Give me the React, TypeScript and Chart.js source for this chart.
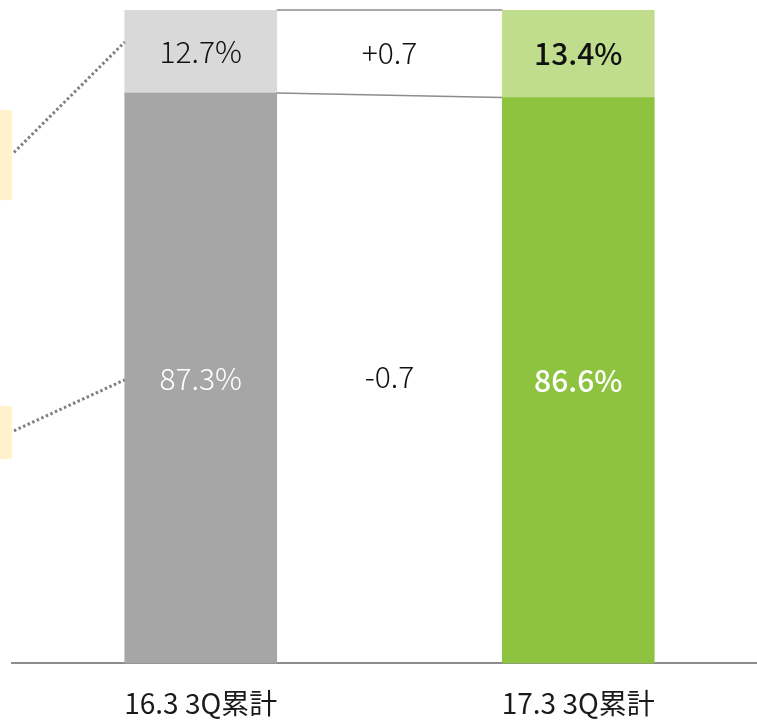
import { useEffect, useRef } from "react";
import { Chart, registerables } from "chart.js";

Chart.register(...registerables);

const categories = ["16.3 3Q累計", "17.3 3Q累計"];
const baseShare = [87.3, 86.6];
const topShare = [12.7, 13.4];
const baseLabels = ["87.3%", "86.6%"];
const topLabels = ["12.7%", "13.4%"];
const changeLabels = ["-0.7", "+0.7"]; // base change, top change
const baseColors = ["#a6a6a6", "#8dc33f"];
const topColors = ["#d9d9d9", "#bfdd8d"];
// callout annotations at left edge (value space)
const calloutBoxRanges = [
  [84.7, 70.9],
  [39.4, 31.3],
];
const calloutLineStarts = [78.2, 35.6];
const calloutLineEnds = [95.1, 43.4];

const FAMILY = "'Noto Sans CJK JP', 'Noto Sans', sans-serif";

export default function App() {
  const ref = useRef<HTMLCanvasElement>(null);

  useEffect(() => {
    const canvas = ref.current;
    if (!canvas) return;

    const overlay = {
      id: "overlay",
      beforeDatasetsDraw(chart: any) {
        const { ctx, chartArea, scales } = chart;
        const y = scales.y;
        ctx.save();
        ctx.fillStyle = "#fff2cc";
        calloutBoxRanges.forEach(([a, b]) => {
          const y1 = y.getPixelForValue(a);
          const y2 = y.getPixelForValue(b);
          ctx.fillRect(0, y1, chartArea.left, y2 - y1);
        });
        ctx.restore();
      },
      afterDatasetsDraw(chart: any) {
        const { ctx, chartArea, scales } = chart;
        const y = scales.y;
        const m0 = chart.getDatasetMeta(0).data.map((e: any) => e.getProps(["x", "y", "base", "width"], true));
        const m1 = chart.getDatasetMeta(1).data.map((e: any) => e.getProps(["x", "y", "base", "width"], true));
        const leftRight = m0[0].x + m0[0].width / 2;
        const rightLeft = m0[1].x - m0[1].width / 2;
        const leftLeft = m0[0].x - m0[0].width / 2;

        ctx.save();
        // connectors
        ctx.strokeStyle = "#8c8c8c";
        ctx.lineWidth = 1.5;
        ctx.beginPath();
        ctx.moveTo(leftRight, m1[0].y);
        ctx.lineTo(rightLeft, m1[1].y);
        ctx.moveTo(leftRight, m0[0].y);
        ctx.lineTo(rightLeft, m0[1].y);
        ctx.stroke();

        // callout dotted lines
        ctx.strokeStyle = "#7f7f7f";
        ctx.lineWidth = 3;
        ctx.setLineDash([2.5, 2.5]);
        calloutLineStarts.forEach((v, i) => {
          ctx.beginPath();
          ctx.moveTo(chartArea.left + 2, y.getPixelForValue(v));
          ctx.lineTo(leftLeft, y.getPixelForValue(calloutLineEnds[i]));
          ctx.stroke();
        });
        ctx.setLineDash([]);

        // labels
        ctx.textAlign = "center";
        ctx.textBaseline = "middle";
        for (let i = 0; i < 2; i++) {
          const bold = i === 1;
          ctx.font = `${bold ? 500 : 300} 30px ${FAMILY}`;
          ctx.fillStyle = "#ffffff";
          ctx.fillText(baseLabels[i], m0[i].x, (m0[i].y + m0[i].base) / 2);
          ctx.fillStyle = "#111111";
          ctx.fillText(topLabels[i], m1[i].x, (m1[i].y + m1[i].base) / 2);
        }
        const midX = (leftRight + rightLeft) / 2;
        ctx.font = `300 30px ${FAMILY}`;
        ctx.fillStyle = "#111111";
        const baseMid = ((m0[0].y + m0[0].base) / 2 + (m0[1].y + m0[1].base) / 2) / 2;
        const topMid = ((m1[0].y + m1[0].base) / 2 + (m1[1].y + m1[1].base) / 2) / 2;
        ctx.fillText(changeLabels[0], midX, baseMid - 3);
        ctx.fillText(changeLabels[1], midX, topMid);
        ctx.restore();
      },
    };

    const chart = new Chart(canvas, {
      type: "bar",
      data: {
        labels: categories,
        datasets: [
          { data: baseShare, backgroundColor: baseColors, borderWidth: 0 },
          { data: topShare, backgroundColor: topColors, borderWidth: 0 },
        ],
      },
      options: {
        responsive: false,
        animation: false,
        devicePixelRatio: 1,
        layout: { padding: { left: 12, right: 0, top: 10, bottom: 0 } },
        plugins: { legend: { display: false }, tooltip: { enabled: false } },
        datasets: { bar: { barThickness: 152 } },
        scales: {
          x: {
            stacked: true,
            grid: { display: false, drawTicks: false },
            border: { display: true, color: "#8c8c8c", width: 2 },
            ticks: {
              padding: 23,
              color: "#1a1a1a",
              font: { family: FAMILY, size: 28 },
            },
          },
          y: {
            stacked: true,
            display: false,
            min: 0,
            max: 100,
          },
        },
      },
      plugins: [overlay],
    });

    return () => chart.destroy();
  }, []);

  return (
    <div
      style={{
        position: "absolute",
        left: 0,
        top: 0,
        width: 757,
        height: 721,
        overflow: "hidden",
        background: "#ffffff",
      }}
    >
      <canvas ref={ref} width={767} height={743} style={{ display: "block", width: 767, height: 743 }} />
    </div>
  );
}
